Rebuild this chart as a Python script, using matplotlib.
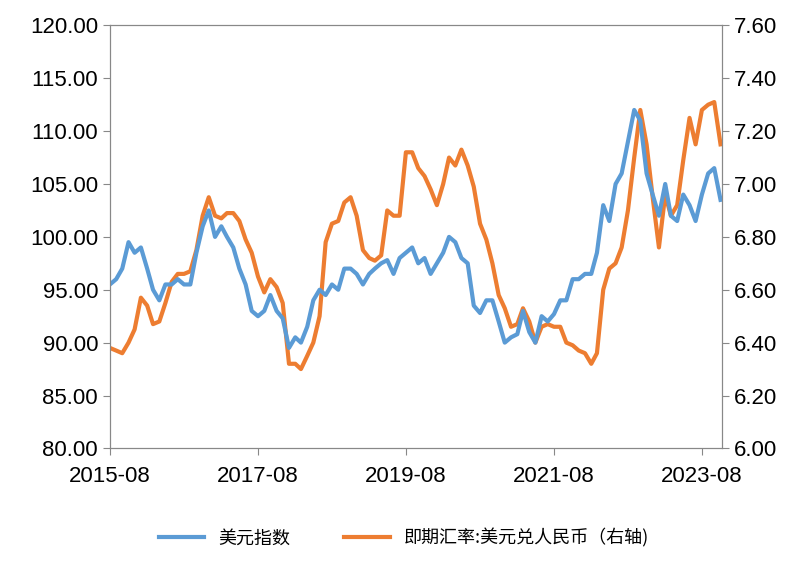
import matplotlib
matplotlib.use('Agg')
import matplotlib.pyplot as plt
import matplotlib.dates as mdates
import pandas as pd

plt.rcParams['font.family'] = ['Liberation Sans', 'Noto Sans CJK SC']

# monthly values, 2015-08 .. 2023-11
meses = pd.date_range('2015-08-01', '2023-11-01', freq='MS')

dxy = [95.5, 96.0, 97.0, 99.5, 98.5,
       99.0, 97.0, 95.0, 94.0, 95.5, 95.5, 96.0, 95.5, 95.5, 98.5, 101.0, 102.5,
       100.0, 101.0, 100.0, 99.0, 97.0, 95.5, 93.0, 92.5, 93.0, 94.5, 93.0, 92.3,
       89.5, 90.5, 90.0, 91.5, 94.0, 95.0, 94.5, 95.5, 95.0, 97.0, 97.0, 96.5,
       95.5, 96.5, 97.0, 97.5, 97.8, 96.5, 98.0, 98.5, 99.0, 97.5, 98.0, 96.5,
       97.5, 98.5, 100.0, 99.5, 98.0, 97.5, 93.5, 92.8, 94.0, 94.0, 92.0, 90.0,
       90.5, 90.8, 93.0, 91.0, 90.0, 92.5, 92.0, 92.7, 94.0, 94.0, 96.0, 96.0,
       96.5, 96.5, 98.5, 103.0, 101.5, 105.0, 106.0, 109.0, 112.0, 111.0, 106.0, 104.0,
       102.0, 105.0, 102.0, 101.5, 104.0, 103.0, 101.5, 104.0, 106.0, 106.5, 103.5]

usdcny = [6.38, 6.37, 6.36, 6.40, 6.45,
          6.57, 6.54, 6.47, 6.48, 6.55, 6.63, 6.66, 6.66, 6.67, 6.75, 6.88, 6.95,
          6.88, 6.87, 6.89, 6.89, 6.86, 6.79, 6.74, 6.65, 6.59, 6.64, 6.61, 6.55,
          6.32, 6.32, 6.30, 6.35, 6.40, 6.50, 6.78, 6.85, 6.86, 6.93, 6.95, 6.88,
          6.75, 6.72, 6.71, 6.73, 6.90, 6.88, 6.88, 7.12, 7.12, 7.06, 7.03, 6.98,
          6.92, 7.00, 7.10, 7.07, 7.13, 7.07, 6.99, 6.85, 6.79, 6.70, 6.58, 6.53,
          6.46, 6.47, 6.53, 6.48, 6.40, 6.46, 6.47, 6.46, 6.46, 6.40, 6.39, 6.37,
          6.36, 6.32, 6.36, 6.60, 6.68, 6.70, 6.76, 6.90, 7.10, 7.28, 7.15, 6.95,
          6.76, 6.96, 6.88, 6.92, 7.09, 7.25, 7.15, 7.28, 7.30, 7.31, 7.15]

azul = '#5B9BD5'
laranja = '#ED7D31'

fig, ax = plt.subplots(figsize=(8.08, 5.64), dpi=100)
fig.subplots_adjust(left=0.136, right=0.894, top=0.955, bottom=0.205)
ax2 = ax.twinx()

l1, = ax.plot(meses, dxy, color=azul, linewidth=3, label='美元指数')
l2, = ax2.plot(meses, usdcny, color=laranja, linewidth=3, label='即期汇率:美元兑人民币（右轴)')
ax.set_zorder(ax2.get_zorder() + 1)
ax.patch.set_visible(False)

ax.set_ylim(80, 120)
ax.set_yticks(range(80, 121, 5))
ax.yaxis.set_major_formatter(matplotlib.ticker.FormatStrFormatter('%.2f'))
ax2.set_ylim(6.0, 7.6)
ax2.set_yticks([6.0, 6.2, 6.4, 6.6, 6.8, 7.0, 7.2, 7.4, 7.6])
ax2.yaxis.set_major_formatter(matplotlib.ticker.FormatStrFormatter('%.2f'))

ax.set_xlim(pd.Timestamp('2015-08-01'), pd.Timestamp('2023-11-10'))
ticks = pd.to_datetime(['2015-08-01', '2017-08-01', '2019-08-01', '2021-08-01', '2023-08-01'])
ax.set_xticks(ticks)
ax.xaxis.set_major_formatter(mdates.DateFormatter('%Y-%m'))

for a in (ax, ax2):
    a.tick_params(labelsize=16, direction='out', length=5, color='#888888')
    for s in a.spines.values():
        s.set_color('#888888')
ax.tick_params(axis='x', pad=8)

fig.legend(handles=[l1, l2], loc='lower center', ncol=2, frameon=False,
           prop={'family': 'Noto Sans CJK SC', 'size': 13},
           bbox_to_anchor=(0.5, 0.0), handlelength=2.5, columnspacing=3)

fig.savefig('out.png')
